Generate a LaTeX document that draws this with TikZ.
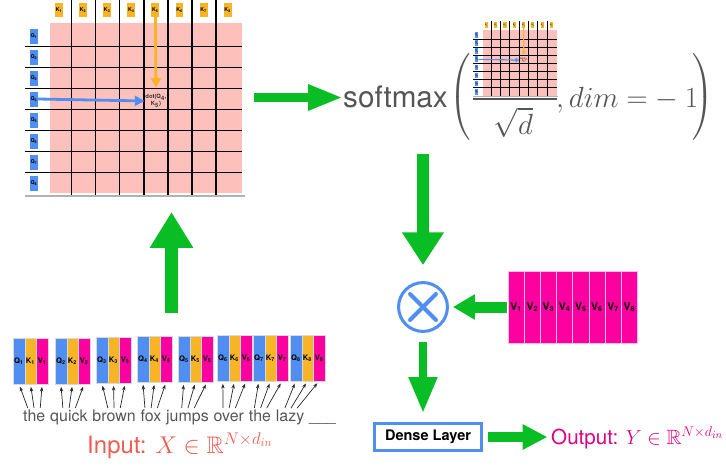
\documentclass[tikz,border=0pt]{standalone}
\usepackage{amsmath,amssymb}
\usepackage{exscale}
\usepackage[no-math]{fontspec}
\setmainfont{TeX Gyre Heros}
\usetikzlibrary{arrows.meta, positioning}
\definecolor{gridpink}{RGB}{253,192,187}
\definecolor{qblue}{RGB}{80,142,242}
\definecolor{korange}{RGB}{246,180,38}
\definecolor{vpink}{RGB}{252,0,160}
\definecolor{arrowgreen}{RGB}{8,190,36}
\definecolor{inputred}{RGB}{240,92,80}
\definecolor{outputpink}{RGB}{222,0,128}
\definecolor{textgray}{RGB}{85,85,85}

% attention score grid, #1 = line width factor, #2 = name prefix
\newcommand{\scoremap}[2]{%
  \fill[gridpink] (50,23) rectangle (242,193);
  \foreach \c in {0,...,6} {
    \draw[line width=#1*1.3pt] ({71.5+24.1*\c},0) -- ({71.5+24.1*\c},195);
    \draw[line width=#1*1.3pt] (25,{46.5+21*\c}) -- (242,{46.5+21*\c});
  }
  \draw[black!30, line width=#1*1.5pt] (25,196) -- (245,196);
  \foreach \i in {1,...,8} {
    \node[kbox] (#2k\i) at ({59+24.1*(\i-1)},10) {K\textsubscript{\i}};
    \node[qbox] (#2q\i) at (34,{36+21*(\i-1)}) {Q\textsubscript{\i}};
  }
  \node[dotlabel] (#2dot) at (156,101) {dot(Q\textsubscript{4},\\K\textsubscript{5})};
  \draw[qkarrow, draw=qblue, line width=#1*2.4pt] (#2q4.east) -- (#2dot.west);
  \draw[qkarrow, draw=korange, line width=#1*2.4pt, shorten >=#1*5pt] (#2k5.south) -- (#2dot.north);
}
% tall bracket for the softmax argument
\newcommand{\tallparen}[2]{$\nulldelimiterspace=0pt\delimitershortfall=0pt\delimiterfactor=1000\left#1\vcenter{\hbox{\vrule height 72pt width 0pt}}\right#2$}

\begin{document}
\begin{tikzpicture}[
    x=0.03cm, y=-0.03cm,
    kbox/.style={rectangle, fill=korange, minimum width=6.8pt, minimum height=11.9pt, inner sep=0pt, font=\fontsize{4.5}{5}\selectfont\bfseries},
    qbox/.style={rectangle, fill=qblue, minimum width=6.8pt, minimum height=12.8pt, inner sep=0pt, font=\fontsize{4.5}{5}\selectfont\bfseries},
    dotlabel/.style={align=center, inner sep=0.5pt, text=black!80, font=\fontsize{5}{5.5}\selectfont\bfseries},
    qkarrow/.style={-{Triangle[length=0pt 3.5, width=0pt 3.5]}},
    stripe/.style={rectangle, minimum width=9.95pt, minimum height=39.1pt, inner sep=0pt, outer sep=0pt, draw=white!85!black, line width=0.3pt, font=\fontsize{6.5}{7}\selectfont\bfseries},
    vcell/.style={rectangle, fill=vpink, draw=white!75!vpink, line width=0.5pt, minimum width=13.8pt, minimum height=61.2pt, inner sep=0pt, outer sep=0pt, font=\fontsize{9}{10}\selectfont\bfseries},
    word/.style={inner sep=0pt, text height=9.5pt, text depth=3pt, text=textgray, font=\fontsize{13.6}{16}\selectfont},
    tokarrow/.style={-{Stealth[length=4pt, width=3pt]}, line width=0.6pt, black!85, shorten >=2.5pt, shorten <=1.5pt},
    flow/.style={draw=arrowgreen},
    formula/.style={inner sep=0pt, text=textgray, font=\fontsize{25.3}{30}\selectfont},
    paren/.style={inner sep=0pt, text=textgray, font=\fontsize{20}{24}\selectfont},
    mult/.style={circle, draw=qblue, line width=2.6pt, minimum size=41.7pt, inner sep=0pt, fill=white},
    cross/.style={draw=qblue, line width=3.4pt, line cap=round},
    dense/.style={rectangle, draw=qblue, line width=2.6pt, fill=white, minimum width=91pt, minimum height=23pt, inner sep=0pt, font=\fontsize{12.4}{14}\selectfont\bfseries},
    inlabel/.style={inner sep=0pt, text=inputred, font=\fontsize{20.4}{24}\selectfont},
    outlabel/.style={inner sep=0pt, text=outputpink, font=\fontsize{17.6}{21}\selectfont}
]
    \useasboundingbox (0,0) rectangle (726,466);

    % Score grid
    \scoremap{1}{big}

    % Softmax of scaled scores
    \node[formula, anchor=base west] (sm) at (343,107) {softmax};
    \node[paren] (lpar) at (460,97) {\tallparen{(}{.}};
    \begin{scope}[shift={(463.7,21.2)}, scale=0.385, transform shape]
        \scoremap{0.4}{small}
    \end{scope}
    \draw[textgray, line width=1.7pt] (473,99) -- (557,99);
    \node[formula, anchor=north] (den) at (513.5,107) {$\sqrt{d}$};
    \node[formula, anchor=base west, font=\fontsize{23}{28}\selectfont] (dimarg) at (556,107) {$,dim=-\mskip\medmuskip 1$};
    \node[paren] (rpar) at (703,97) {\tallparen{.}{)}};

    % Weighted sum with values
    \node[mult] (mult) at (423,307) {};
    \draw[cross] ([shift={(-13,-13)}]mult.center) -- ([shift={(13,13)}]mult.center);
    \draw[cross] ([shift={(-13,13)}]mult.center) -- ([shift={(13,-13)}]mult.center);
    \node[vcell] (v1) at (516.1,307) {V\textsubscript{1}};
    \foreach \i [remember=\i as \j (initially 1)] in {2,...,8}
        \node[vcell, right=0pt of v\j] (v\i) {V\textsubscript{\i}};

    \node[dense] (dense) at (428,437) {Dense Layer};
    \node[outlabel, anchor=base west] (out) at (551,444) {Output: $Y\in\mathbb{R}^{N\times d_{in}}$};

    % Token embeddings
    \foreach \i/\x/\y in {1/13/338, 2/55/338, 3/96/337, 4/137/336, 5/178/336, 6/217/335, 7/253/335, 8/290/335} {
        \node[stripe, fill=qblue] (tq\i) at (\x+5.85,\y+23) {Q\textsubscript{\i}};
        \node[stripe, fill=korange, right=0pt of tq\i] (tk\i) {K\textsubscript{\i}};
        \node[stripe, fill=vpink, right=0pt of tk\i] (tv\i) {V\textsubscript{\i}};
    }

    % Sentence
    \node[word, anchor=base west] (w1) at (23,421) {the};
    \node[word, base right=3.8pt of w1] (w2) {quick};
    \node[word, base right=3.8pt of w2] (w3) {brown};
    \node[word, base right=3.8pt of w3] (w4) {fox};
    \node[word, base right=3.8pt of w4] (w5) {jumps};
    \node[word, base right=3.8pt of w5] (w6) {over};
    \node[word, base right=3.8pt of w6] (w7) {the};
    \node[word, base right=3.8pt of w7] (w8) {lazy};
    \node[word, base right=3.8pt of w8] (w9) {\_\_\_};
    \foreach \i in {1,...,8} {
        \draw[tokarrow] ([xshift=-5pt]w\i.north) -- (tq\i.south);
        \draw[tokarrow] (w\i.north) -- (tk\i.south);
        \draw[tokarrow] ([xshift=5pt]w\i.north) -- (tv\i.south);
    }
    \node[inlabel, anchor=base west] (in) at (87,453) {Input: $X \in \mathbb{R}^{N\times d_{in}}$};

    % Green arrows
    \coordinate (embtop) at (171.5,313);
    \coordinate (mapbottom) at (171.5,212);
    \coordinate (mapright) at (254,97.5);
    \coordinate (fracbottom) at (423,154);
    \draw[flow, line width=11pt, -{Triangle[length=30.6pt, width=35pt]}] (embtop) -- (mapbottom);
    \draw[flow, line width=7.7pt, -{Triangle[length=29.8pt, width=20.4pt]}] (mapright) -- (mapright -| sm.west);
    \draw[flow, line width=11pt, -{Triangle[length=28pt, width=34pt]}, shorten >=13.6pt] (fracbottom) -- (mult.north);
    \draw[flow, line width=9.4pt, -{Triangle[length=18.7pt, width=20.4pt]}, shorten <=1pt, shorten >=3.4pt] (v1.west) -- (mult.east);
    \draw[flow, line width=6.8pt, -{Triangle[length=30.6pt, width=23pt]}, shorten <=7.7pt, shorten >=7.7pt] (mult.south) -- (mult.south |- dense.north);
    \draw[flow, line width=8.5pt, -{Triangle[length=21.3pt, width=20.4pt]}, shorten <=4.3pt, shorten >=3pt] (dense.east) -- (dense.east -| out.west);
\end{tikzpicture}
\end{document}
